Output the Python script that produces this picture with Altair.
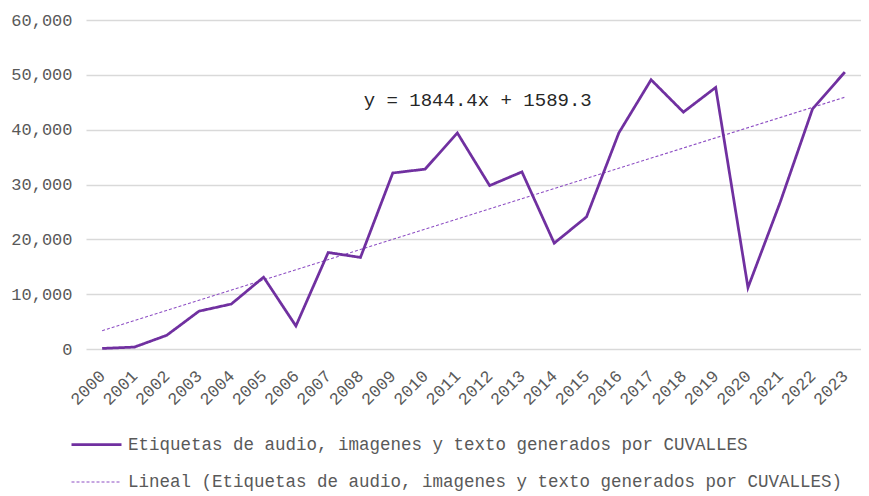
import altair as alt
import pandas as pd

years = list(range(2000, 2024))
values = [100, 350, 2500, 6900, 8200, 13100, 4200, 17600, 16700, 32100, 32800, 39400,
          29800, 32300, 19300, 24100, 39400, 49100, 43200, 47700, 11200, 26800, 43800, 50500]
series_main = "Etiquetas de audio, imagenes y texto generados por CUVALLES"
series_trend = "Lineal (Etiquetas de audio, imagenes y texto generados por CUVALLES)"
equation_text = ["y = 1844.4x + 1589.3"]
equation_x = [2008.1]
equation_y = [45400]
y_ticks = [0, 10000, 20000, 30000, 40000, 50000, 60000]

FONT = "Liberation Mono"
PURPLE = "#7030A0"

df = pd.DataFrame({"year": years, "value": values, "serie": series_main})
ann = pd.DataFrame({"year": equation_x, "value": equation_y, "t": equation_text})

W, H = 775, 329

xenc = alt.X("year:Q",
             scale=alt.Scale(domain=[1999.5, 2023.5], nice=False, zero=False),
             axis=alt.Axis(values=years, format="d", labelAngle=-45, labelAlign="right",
                           labelBaseline="middle", grid=False, ticks=False, domain=False,
                           labelPadding=24, title=None, labelFontSize=17, labelFont=FONT,
                           labelColor="#595959", labelOverlap=False, labelBound=False,
                           labelFlush=False, labelSeparation=0))
yenc = alt.Y("value:Q",
             scale=alt.Scale(domain=[0, 60000], nice=False),
             axis=alt.Axis(values=y_ticks, format=",d", grid=True, gridColor="#D9D9D9",
                           gridWidth=1.5, ticks=False, domain=False, title=None,
                           labelPadding=14, labelFontSize=17, labelFont=FONT,
                           labelColor="#595959"))

dom = [series_main, series_trend]
leg = dict(title=None, orient="none", legendX=-16, legendY=H + 69,
           direction="vertical", symbolType="stroke",
           symbolSize=2500, labelFont=FONT, labelFontSize=17.5,
           labelColor="#595959", labelLimit=1000, rowPadding=3,
           labelOffset=5, padding=0)
color = alt.Color("serie:N", scale=alt.Scale(domain=dom, range=[PURPLE, "#8E4FC4"]),
                  legend=alt.Legend(**leg))
dash = alt.StrokeDash("serie:N", scale=alt.Scale(domain=dom, range=[[1, 0], [3, 2]]),
                      legend=alt.Legend(**leg))
sw = alt.StrokeWidth("serie:N", scale=alt.Scale(domain=dom, range=[2.75, 1.1]),
                     legend=alt.Legend(**leg))

base = alt.Chart(df)

trend = base.transform_regression("year", "value").transform_calculate(
    serie=f"'{series_trend}'"
).mark_line().encode(x=xenc, y=yenc, color=color, strokeDash=dash, strokeWidth=sw)

line = base.mark_line(strokeJoin="miter").encode(x=xenc, y=yenc, color=color,
                                                  strokeDash=dash, strokeWidth=sw)

text = alt.Chart(ann).mark_text(font=FONT, fontSize=19, color="#262626", align="left",
                                baseline="middle").encode(
    x=xenc, y=yenc, text="t:N")

chart = alt.layer(trend, line, text).properties(
    width=W, height=H,
    padding={"left": 2, "top": 3, "right": 0, "bottom": 0},
).configure(background="white").configure_view(stroke=None)

chart.save("out.html", embed_options={"renderer": "svg", "actions": False})
